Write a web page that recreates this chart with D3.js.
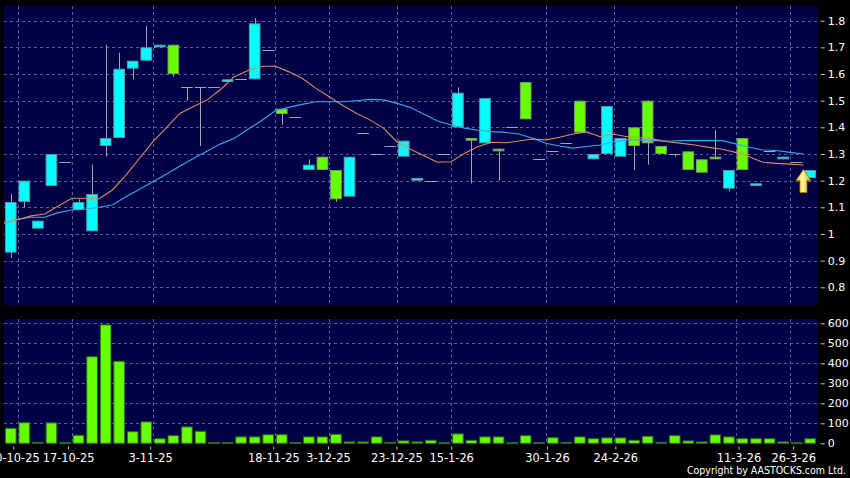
<!DOCTYPE html>
<html><head><meta charset="utf-8">
<script src="https://cdn.jsdelivr.net/npm/d3@7"></script>
<style>html,body{margin:0;padding:0;background:#000;} svg{display:block;}</style>
</head><body><svg id="c" width="850" height="478"></svg>
<script>
// ---- data ----
const opens  = [0.93,1.12,1.02,1.18,1.27,1.09,1.01,1.33,1.36,1.62,1.65,1.70,1.71,1.55,1.55,1.55,1.57,1.58,1.58,1.69,
                1.47,1.44,1.24,1.29,1.24,1.14,1.38,1.30,1.33,1.29,1.20,1.20,1.30,1.40,1.36,1.34,1.32,1.40,1.57,1.28,
                1.31,1.34,1.50,1.28,1.30,1.29,1.40,1.50,1.33,1.30,1.31,1.28,1.29,1.17,1.36,1.18,1.31,1.28,1.27,1.21];
const highs  = [1.15,1.20,1.05,1.30,1.27,1.13,1.26,1.71,1.68,1.65,1.78,1.71,1.71,1.55,1.55,1.55,1.58,1.58,1.81,1.69,
                1.47,1.44,1.28,1.29,1.24,1.29,1.38,1.30,1.33,1.35,1.21,1.20,1.30,1.55,1.36,1.51,1.32,1.40,1.57,1.28,
                1.31,1.34,1.50,1.30,1.48,1.36,1.40,1.50,1.33,1.30,1.31,1.28,1.39,1.24,1.36,1.19,1.31,1.29,1.27,1.24];
const lows   = [0.91,1.10,1.02,1.18,1.27,1.09,1.01,1.29,1.36,1.58,1.65,1.70,1.59,1.50,1.33,1.55,1.57,1.58,1.58,1.69,
                1.41,1.44,1.24,1.24,1.12,1.14,1.38,1.30,1.33,1.29,1.20,1.20,1.30,1.40,1.19,1.34,1.20,1.40,1.43,1.28,
                1.31,1.34,1.38,1.28,1.30,1.29,1.24,1.26,1.30,1.29,1.24,1.23,1.28,1.16,1.24,1.18,1.31,1.28,1.27,1.21];
const closes = [1.12,1.20,1.05,1.30,1.27,1.12,1.15,1.36,1.62,1.65,1.70,1.71,1.60,1.55,1.55,1.55,1.58,1.58,1.79,1.69,
                1.45,1.44,1.26,1.24,1.13,1.29,1.38,1.30,1.33,1.35,1.21,1.20,1.30,1.53,1.35,1.51,1.31,1.40,1.43,1.28,
                1.31,1.34,1.38,1.30,1.48,1.36,1.33,1.34,1.30,1.30,1.24,1.23,1.28,1.24,1.24,1.19,1.31,1.29,1.27,1.24];
const volumes = [75,103,5,102,3,40,433,592,410,58,107,23,38,82,60,4,4,32,32,43,
                 43,4,32,32,45,7,7,32,5,12,7,15,3,47,15,32,32,3,38,4,
                 28,5,32,23,27,27,15,35,5,38,12,7,42,32,23,23,23,7,3,23];
const ma10 = [1.043,1.053,1.068,1.075,1.105,1.134,1.134,1.131,1.165,1.221,1.284,1.346,1.400,1.453,1.478,1.503,1.543,1.590,1.613,1.628,
              1.630,1.609,1.584,1.547,1.515,1.482,1.453,1.428,1.397,1.346,1.318,1.293,1.269,1.271,1.303,1.328,1.344,1.342,1.349,1.356,
              1.353,1.363,1.375,1.383,1.365,1.374,1.365,1.361,1.355,1.346,1.340,1.334,1.325,1.318,1.306,1.290,1.269,1.265,1.262,1.259];
const ma20 = [1.040,1.055,1.063,1.063,1.080,1.090,1.093,1.100,1.109,1.140,1.168,1.196,1.225,1.255,1.284,1.311,1.338,1.359,1.393,1.425,
              1.461,1.475,1.486,1.496,1.496,1.496,1.500,1.505,1.503,1.490,1.474,1.449,1.424,1.409,1.397,1.389,1.384,1.381,1.375,1.359,
              1.340,1.330,1.322,1.328,1.334,1.346,1.353,1.353,1.350,1.348,1.350,1.350,1.350,1.350,1.338,1.325,1.315,1.313,1.306,1.300];
const tickSlots  = [1,5,11,20,24,29,33,40,45,54,58];
const tickLabels = ["10-10-25","17-10-25","3-11-25","18-11-25","3-12-25","23-12-25","15-1-26","30-1-26","24-2-26","11-3-26","26-3-26"];
const priceTicks = [0.8,0.9,1,1.1,1.2,1.3,1.4,1.5,1.6,1.7,1.8];
const volTicks   = [0,100,200,300,400,500,600];

// ---- layout ----
const N = closes.length;
const L = 4, R = 817.7;
const mainTop = 6, mainBot = 305, volTop = 319, volBot = 443.5;
const BG = "#000046", GRID = "#5c5c96";

const svg = d3.select("#c");
svg.append("rect").attr("width",850).attr("height",478).attr("fill","#000");

const x = d3.scaleBand().domain(d3.range(N)).range([L, 817]).paddingInner(0.14).paddingOuter(0.07);
const slotX = d3.scaleLinear().domain([0, N]).range([L, 817]);
const axisX = d3.scaleLinear().domain([0, N]).range([-0.4, 820.6]);
const yP = d3.scaleLinear().domain([0.8, 1.8]).range([287.3, 20.7]);
const yV = d3.scaleLinear().domain([0, 600]).range([443.3, 323.3]);

// panels
svg.append("rect").attr("x",L).attr("y",mainTop).attr("width",R-L).attr("height",mainBot-mainTop).attr("fill",BG);
svg.append("rect").attr("x",L).attr("y",volTop).attr("width",R-L).attr("height",volBot-volTop).attr("fill",BG);

// grid
const g = svg.append("g").attr("stroke",GRID).attr("stroke-width",1).attr("stroke-dasharray","3,3").attr("shape-rendering","crispEdges");
g.selectAll(".hp").data(priceTicks).join("line").attr("x1",L).attr("x2",R).attr("y1",d=>Math.round(yP(d))+0.5).attr("y2",d=>Math.round(yP(d))+0.5);
g.selectAll(".hv").data(volTicks.filter(d=>d>0)).join("line").attr("class","hv").attr("x1",L).attr("x2",R).attr("y1",d=>Math.round(yV(d))+0.5).attr("y2",d=>Math.round(yV(d))+0.5);
g.selectAll(".vp").data(tickSlots).join("line").attr("class","vp").attr("x1",d=>Math.round(slotX(d))+0.5).attr("x2",d=>Math.round(slotX(d))+0.5).attr("y1",mainTop).attr("y2",mainBot);
g.selectAll(".vv").data(tickSlots).join("line").attr("class","vv").attr("x1",d=>Math.round(slotX(d))+0.5).attr("x2",d=>Math.round(slotX(d))+0.5).attr("y1",volTop).attr("y2",volBot);

// candles
const CY = "#00ffff", GR = "#66ff00";
const cg = svg.append("g");
const idx = d3.range(N);
const cx = i => x(i) + x.bandwidth()/2;
cg.selectAll(".wick").data(idx.filter(i=>highs[i]!==lows[i])).join("line")
  .attr("x1",i=>Math.round(cx(i))+0.5).attr("x2",i=>Math.round(cx(i))+0.5)
  .attr("y1",i=>yP(highs[i])).attr("y2",i=>yP(lows[i]))
  .attr("stroke","#a4a4a8").attr("stroke-width",1);
cg.selectAll(".flat").data(idx.filter(i=>opens[i]===closes[i])).join("line")
  .attr("x1",i=>x(i)).attr("x2",i=>x(i)+x.bandwidth())
  .attr("y1",i=>Math.round(yP(closes[i]))+0.5).attr("y2",i=>Math.round(yP(closes[i]))+0.5)
  .attr("stroke","#a4a4b4").attr("stroke-width",1);
cg.selectAll(".body").data(idx.filter(i=>opens[i]!==closes[i])).join("rect")
  .attr("x",i=>x(i)+0.5).attr("width",x.bandwidth()-1)
  .attr("y",i=>yP(Math.max(opens[i],closes[i]))+0.5)
  .attr("height",i=>Math.max(1.5, Math.abs(yP(opens[i])-yP(closes[i]))-1))
  .attr("fill",i=>closes[i]>opens[i]?CY:GR)
  .attr("stroke",i=>closes[i]>opens[i]?"#5f98a4":"#7c9c6c").attr("stroke-width",1);

// moving averages
const line = d3.line().x((d,i)=>slotX(i)).y(d=>yP(d));
svg.append("path").datum(ma20).attr("d",line).attr("fill","none").attr("stroke","#3aa6ee").attr("stroke-width",1.1);
svg.append("path").datum(ma10).attr("d",line).attr("fill","none").attr("stroke","#dd8a5c").attr("stroke-width",1.1);

// arrow marker on last candle
const defs = svg.append("defs");
const grad = defs.append("linearGradient").attr("id","ag").attr("x1","0").attr("x2","1").attr("y1","0").attr("y2","0");
grad.append("stop").attr("offset","0%").attr("stop-color","#ffd21a");
grad.append("stop").attr("offset","45%").attr("stop-color","#fff6a0");
grad.append("stop").attr("offset","100%").attr("stop-color","#e8a000");
const ax = slotX(N-1), ay = yP(closes[N-1]) - 0.5;
svg.append("path")
  .attr("d",`M${ax},${ay} L${ax+7.5},${ay+11} L${ax+3.5},${ay+11} L${ax+3.5},${ay+23} L${ax-3.5},${ay+23} L${ax-3.5},${ay+11} L${ax-7.5},${ay+11} Z`)
  .attr("fill","url(#ag)").attr("stroke","#b07800").attr("stroke-width",0.8);

// volume bars
svg.append("g").selectAll("rect").data(idx).join("rect")
  .attr("x",i=>x(i)+0.5).attr("width",x.bandwidth()-1)
  .attr("y",i=>yV(volumes[i])).attr("height",i=>Math.max(1, yV(0)-yV(volumes[i])))
  .attr("fill",GR).attr("stroke","#2f6a10").attr("stroke-width",1);

// axes
const FONT = "DejaVu Sans, Verdana, sans-serif";
function styleAxis(sel){
  sel.select(".domain").remove();
  sel.selectAll(".tick line").attr("stroke","#c8c8c8");
  sel.selectAll(".tick text").attr("fill","#ffffff").style("font-family",FONT);
}
svg.append("g").attr("transform",`translate(${R+3},0)`)
  .call(d3.axisRight(yP).tickValues(priceTicks).tickSize(4).tickPadding(3).tickFormat(d3.format("")))
  .call(styleAxis).selectAll(".tick text").style("font-size","11px");
svg.append("g").attr("transform",`translate(${R+3},0)`)
  .call(d3.axisRight(yV).tickValues(volTicks).tickSize(4).tickPadding(3))
  .call(styleAxis).selectAll(".tick text").style("font-size","11px");
svg.append("g").attr("transform",`translate(0,${volBot+3})`)
  .call(d3.axisBottom(axisX).tickValues(tickSlots).tickSize(3).tickPadding(4).tickFormat((d,i)=>tickLabels[i]))
  .call(styleAxis).selectAll(".tick text").style("font-size","11.4px");

svg.append("text").attr("x",846).attr("y",474).attr("text-anchor","end")
  .attr("fill","#ffffff").style("font-family",FONT).style("font-size","11px")
  .attr("textLength",159).attr("lengthAdjust","spacingAndGlyphs")
  .text("Copyright by AASTOCKS.com Ltd.");
</script></body></html>
